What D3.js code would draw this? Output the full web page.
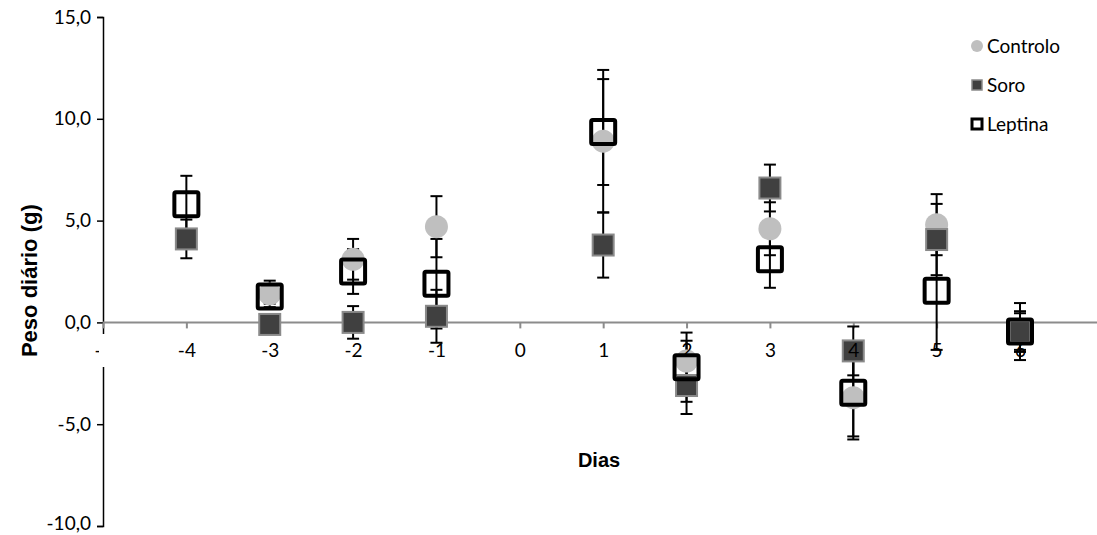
<!DOCTYPE html>
<meta charset="utf-8">
<script src="https://d3js.org/d3.v7.min.js"></script>
<style>
body { margin: 0; background: white; }
.tick text { font-family: Lato, "Open Sans", sans-serif; font-size: 19px; fill: #000; }
.title { font-family: "Liberation Sans", Arial, sans-serif; font-weight: bold; }
.legend text { font-family: Lato, "Open Sans", sans-serif; font-size: 19px; }
</style>
<body>
<svg id="chart" width="1097" height="535"></svg>
<script>
// categories (days) and tick values
var days = [-4, -3, -2, -1, 1, 2, 3, 4, 5, 6];
var xTicks = [-5, -4, -3, -2, -1, 0, 1, 2, 3, 4, 5, 6];
var yTicks = [-10, -5, 0, 5, 10, 15];

// series values
var controlo    = [null, 1.4, 3.1, 4.7, 8.9, -1.9, 4.6, -3.7, 4.8, -0.45];
var controloErr = [null, 0.65, 1.0, 1.5, 3.5, 1.0, 1.3, 1.9, 1.5, 1.0];
var soro        = [4.1, -0.1, 0.0, 0.3, 3.8, -3.1, 6.6, -1.4, 4.07, -0.45];
var soroErr     = [0.95, 0.3, 0.8, 1.3, 1.6, 1.4, 1.15, 1.2, 1.75, 0.9];
var leptina     = [5.8, 1.27, 2.5, 1.9, 9.35, -2.2, 3.1, -3.45, 1.55, -0.45];
var leptinaErr  = [1.4, 0.35, 1.1, 2.2, 2.6, 1.7, 1.4, 2.3, 2.9, 1.4];

var series = [
    {name: "Controlo", values: controlo, err: controloErr},
    {name: "Soro", values: soro, err: soroErr},
    {name: "Leptina", values: leptina, err: leptinaErr}
];

var svg = d3.select("#chart");

var x = d3.scaleLinear().domain([-5, 6]).range([103, 1020]);
var y = d3.scaleLinear().domain([-10, 15]).range([526, 17]);

var fmt = function(d) { return d3.format(".1f")(d).replace(".", ",").replace("\u2212", "-"); };
var fmtX = function(d) { return d < 0 ? "-" + Math.abs(d) : String(d); };

// y axis
var yAxis = svg.append("g")
    .attr("transform", "translate(" + x(-5) + ",0)")
    .call(d3.axisLeft(y).tickValues(yTicks).tickFormat(fmt).tickSizeOuter(0).tickSize(6).tickPadding(6));
yAxis.select(".domain").attr("stroke", "#000").attr("stroke-width", 1.5);
yAxis.selectAll(".tick line").attr("stroke", "#000").attr("stroke-width", 1.5);
// keep the lowest label inside the picture
yAxis.selectAll(".tick text").filter(function(d) { return d === -10; }).attr("dy", "0.2em");

// x axis line at zero, grey, reaching the right edge
svg.append("line")
    .attr("x1", x(-5)).attr("x2", 1097)
    .attr("y1", y(0)).attr("y2", y(0))
    .attr("stroke", "#8c8c8c").attr("stroke-width", 2);

// x tick marks (below the markers)
var xTickG = svg.append("g")
    .attr("transform", "translate(0," + y(0) + ")")
    .call(d3.axisBottom(x).tickValues(xTicks).tickFormat("").tickSize(6));
xTickG.select(".domain").remove();
xTickG.selectAll(".tick line").attr("stroke", "#8c8c8c").attr("stroke-width", 2);

// error bars (all drawn beneath the markers)
var cap = 6;
series.forEach(function(s) {
    var pts = days.map(function(d, i) { return {x: d, v: s.values[i], e: s.err[i]}; })
        .filter(function(p) { return p.v !== null; });
    var g = svg.append("g").attr("stroke", "#000").attr("stroke-width", 2);
    g.selectAll(".bar").data(pts).enter().append("line")
        .attr("x1", function(p) { return x(p.x); }).attr("x2", function(p) { return x(p.x); })
        .attr("y1", function(p) { return y(p.v + p.e); }).attr("y2", function(p) { return y(p.v - p.e); });
    [1, -1].forEach(function(sign) {
        g.selectAll(".cap" + sign).data(pts).enter().append("line")
            .attr("x1", function(p) { return x(p.x) - cap; }).attr("x2", function(p) { return x(p.x) + cap; })
            .attr("y1", function(p) { return y(p.v + sign * p.e); }).attr("y2", function(p) { return y(p.v + sign * p.e); });
    });
});

function points(s) {
    return days.map(function(d, i) { return {x: d, v: s.values[i]}; })
        .filter(function(p) { return p.v !== null; });
}

// Controlo: light grey circles
svg.append("g").selectAll("circle").data(points(series[0])).enter().append("circle")
    .attr("cx", function(p) { return x(p.x); })
    .attr("cy", function(p) { return y(p.v); })
    .attr("r", 11.5)
    .attr("fill", "#bfbfbf");

// Soro: dark squares with grey border
svg.append("g").selectAll("rect").data(points(series[1])).enter().append("rect")
    .attr("x", function(p) { return x(p.x) - 10.5; })
    .attr("y", function(p) { return y(p.v) - 10.5; })
    .attr("width", 21).attr("height", 21)
    .attr("fill", "#404040").attr("stroke", "#8a8a8a").attr("stroke-width", 2);

// Leptina: open black squares
svg.append("g").selectAll("rect").data(points(series[2])).enter().append("rect")
    .attr("x", function(p) { return x(p.x) - 12; })
    .attr("y", function(p) { return y(p.v) - 12; })
    .attr("width", 24).attr("height", 24).attr("rx", 1.5)
    .attr("fill", "none").attr("stroke", "#000").attr("stroke-width", 4);

// x labels sit above the markers
var xLabels = svg.append("g")
    .attr("transform", "translate(0," + y(0) + ")")
    .call(d3.axisBottom(x).tickValues(xTicks).tickFormat(fmtX).tickSize(0).tickPadding(21));
xLabels.select(".domain").remove();

// white patch over the axis, as in the original picture
svg.append("rect").attr("x", 99).attr("y", 334).attr("width", 14).attr("height", 33).attr("fill", "white");

// axis titles
svg.append("text").attr("class", "title")
    .attr("transform", "translate(37," + y(2.05) + ") rotate(-90)")
    .attr("text-anchor", "middle").attr("font-size", 22)
    .text("Peso diário (g)");
svg.append("text").attr("class", "title")
    .attr("x", 599).attr("y", 467)
    .attr("text-anchor", "middle").attr("font-size", 20)
    .text("Dias");

// legend
var legend = svg.append("g").attr("class", "legend")
    .selectAll("g").data(series).enter().append("g")
    .attr("transform", function(d, i) { return "translate(977," + (46 + i * 39) + ")"; });
legend.each(function(d, i) {
    var g = d3.select(this);
    if (i === 0) g.append("circle").attr("r", 6).attr("fill", "#bfbfbf");
    if (i === 1) g.append("rect").attr("x", -5).attr("y", -5).attr("width", 10).attr("height", 10)
        .attr("fill", "#404040").attr("stroke", "#8a8a8a").attr("stroke-width", 1.5);
    if (i === 2) g.append("rect").attr("x", -5).attr("y", -5).attr("width", 10).attr("height", 10)
        .attr("fill", "none").attr("stroke", "#000").attr("stroke-width", 3);
});
legend.append("text").attr("x", 10).attr("dy", "0.35em").text(function(d) { return d.name; });
</script>
</body>
